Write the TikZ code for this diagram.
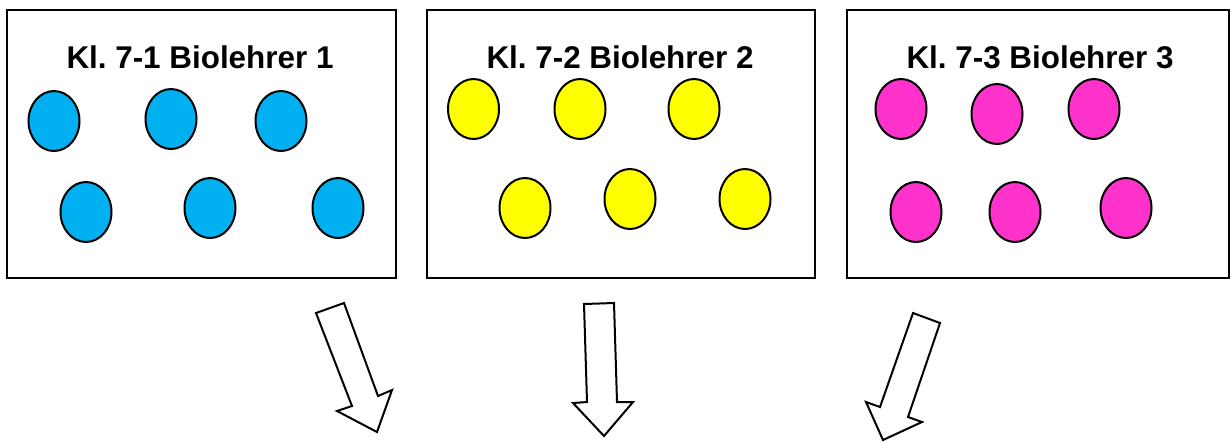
\documentclass[tikz,border=0pt]{standalone}
\usepackage{fontspec}
\setmainfont{Liberation Sans}
\usetikzlibrary{shapes.geometric}
\definecolor{cblue}{HTML}{00B0F0}
\definecolor{cyell}{HTML}{FFFF00}
\definecolor{cmag}{HTML}{FF33CC}
\frenchspacing
\begin{document}
\begin{tikzpicture}[x=0.5pt,y=-0.5pt,
  classbox/.style={draw=black,line width=1pt,fill=white,rectangle,inner sep=0pt},
  pupil/.style={draw=black,line width=1pt,ellipse,inner sep=0pt,minimum width=25.5pt,minimum height=30pt},
  title/.style={font=\bfseries\fontsize{15.7}{18}\selectfont,inner sep=0pt},
  blockarrow/.style={draw=black,line width=1pt,fill=white,line join=miter}]
\useasboundingbox (0,0) rectangle (1230,441);
% boxes
\node[classbox,minimum width=194.5pt,minimum height=134pt] (b1) at (201.5,144) {};
\node[classbox,minimum width=194pt,minimum height=134pt] (b2) at (621,144) {};
\node[classbox,minimum width=191pt,minimum height=134pt] (b3) at (1038,144) {};
% titles
\node[title] (t1) at (200,57) {Kl. 7-1 Biolehrer 1};
\node[title] (t2) at (620,57) {Kl. 7-2 Biolehrer 2};
\node[title] (t3) at (1040,57) {Kl. 7-3 Biolehrer 3};
% pupils class 1
\node[pupil,fill=cblue] (p11) at (54,121) {};
\node[pupil,fill=cblue] (p12) at (171,119) {};
\node[pupil,fill=cblue] (p13) at (281,121) {};
\node[pupil,fill=cblue] (p14) at (86,212) {};
\node[pupil,fill=cblue] (p15) at (210,208) {};
\node[pupil,fill=cblue] (p16) at (338,208) {};
% pupils class 2
\node[pupil,fill=cyell] (p21) at (473.5,109) {};
\node[pupil,fill=cyell] (p22) at (580,109) {};
\node[pupil,fill=cyell] (p23) at (694,109) {};
\node[pupil,fill=cyell] (p24) at (525,208) {};
\node[pupil,fill=cyell] (p25) at (630,199) {};
\node[pupil,fill=cyell] (p26) at (745,199) {};
% pupils class 3
\node[pupil,fill=cmag] (p31) at (901,109) {};
\node[pupil,fill=cmag] (p32) at (997,114) {};
\node[pupil,fill=cmag] (p33) at (1094,109) {};
\node[pupil,fill=cmag] (p34) at (916,212) {};
\node[pupil,fill=cmag] (p35) at (1015,212) {};
\node[pupil,fill=cmag] (p36) at (1126,208) {};
% arrows
\draw[blockarrow] (316,313) -- (344,303) -- (378,396) -- (392,390) -- (377,432) -- (337,411) -- (352,406) -- cycle;
\draw[blockarrow] (584,304) -- (614,303) -- (617,402) -- (633,402) -- (604,436) -- (573,403) -- (587,402) -- cycle;
\draw[blockarrow] (913,313) -- (940,323) -- (908,417) -- (922,422) -- (883,440) -- (866,402) -- (880,407) -- cycle;
\end{tikzpicture}
\end{document}
